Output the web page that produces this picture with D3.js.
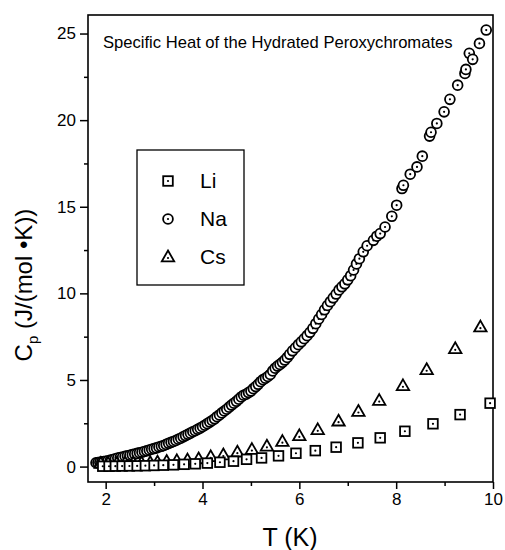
<!DOCTYPE html>
<html>
<head>
<meta charset="utf-8">
<script src="https://cdn.jsdelivr.net/npm/d3@7"></script>
<style>
  body { margin: 0; background: #fff; }
  svg { font-family: Arial, "Liberation Sans", sans-serif; }
</style>
</head>
<body>
<svg id="chart" width="505" height="550"></svg>
<script>
// data: T in K, Cp in J/(mol K)
let liT = [1.94, 2.07, 2.20, 2.34, 2.49, 2.65, 2.82, 3.00, 3.19, 3.40, 3.62, 3.85, 4.10, 4.36,
           4.64, 4.91, 5.22, 5.57, 5.93, 6.33, 6.76, 7.21, 7.67, 8.18, 8.76, 9.32, 9.94];
let liC = [0.02, 0.02, 0.025, 0.03, 0.035, 0.04, 0.05, 0.065, 0.08, 0.10, 0.13, 0.16, 0.20, 0.25,
           0.31, 0.42, 0.50, 0.62, 0.77, 0.92, 1.12, 1.37, 1.66, 2.04, 2.47, 3.00, 3.66];

let naT = [1.80, 1.84, 1.88, 1.92, 1.96, 2.00, 2.05, 2.10, 2.15, 2.20, 2.25, 2.30, 2.35, 2.40, 2.45,
           2.50, 2.55, 2.60, 2.65, 2.70, 2.75, 2.80, 2.85, 2.90, 2.95, 3.00, 3.05, 3.10, 3.15, 3.20,
           3.25, 3.30, 3.35, 3.40, 3.45, 3.50, 3.55, 3.60, 3.65, 3.70, 3.75, 3.80, 3.85, 3.90, 3.95,
           4.00, 4.05, 4.10, 4.15, 4.20, 4.25, 4.30, 4.35, 4.40, 4.45, 4.50, 4.55, 4.60, 4.65, 4.70,
           4.75, 4.80, 4.85, 4.90, 4.95, 5.00, 5.05, 5.10, 5.15, 5.20, 5.25, 5.30, 5.35, 5.40, 5.45,
           5.50, 5.55, 5.60, 5.65, 5.70, 5.75, 5.80, 5.86, 5.92, 5.98, 6.04, 6.10, 6.16, 6.22, 6.28,
           6.34, 6.40, 6.46, 6.52, 6.58, 6.64, 6.70, 6.76, 6.82, 6.88, 6.94, 7.00, 7.06, 7.12, 7.18,
           7.24, 7.32, 7.40, 7.53, 7.60, 7.67, 7.77, 7.91, 8.01, 8.12, 8.15, 8.29, 8.43, 8.54, 8.69,
           8.72, 8.84, 8.99, 9.11, 9.27, 9.42, 9.44, 9.51, 9.58, 9.72, 9.86];
let naC = [0.22, 0.23, 0.25, 0.27, 0.29, 0.31, 0.34, 0.38, 0.41, 0.45, 0.49, 0.52, 0.55, 0.59, 0.62,
           0.65, 0.69, 0.72, 0.76, 0.80, 0.83, 0.87, 0.91, 0.96, 1.00, 1.04, 1.08, 1.13, 1.17, 1.22,
           1.28, 1.34, 1.40, 1.45, 1.51, 1.58, 1.64, 1.72, 1.79, 1.86, 1.93, 2.01, 2.07, 2.15, 2.22,
           2.30, 2.39, 2.48, 2.57, 2.66, 2.76, 2.88, 2.98, 3.10, 3.21, 3.31, 3.43, 3.55, 3.66, 3.77,
           3.89, 4.02, 4.12, 4.18, 4.27, 4.36, 4.50, 4.62, 4.75, 4.90, 5.02, 5.10, 5.20, 5.32, 5.52,
           5.68, 5.80, 5.90, 6.02, 6.15, 6.30, 6.48, 6.68, 6.86, 7.04, 7.20, 7.38, 7.56, 7.75, 7.98,
           8.25, 8.52, 8.78, 9.05, 9.30, 9.52, 9.74, 9.96, 10.20, 10.38, 10.55, 10.78, 11.02, 11.35, 11.70,
           12.00, 12.40, 12.75, 13.06, 13.30, 13.45, 13.83, 14.45, 15.09, 16.05, 16.24, 16.88, 17.30, 17.92, 19.08,
           19.30, 19.81, 20.48, 21.20, 22.02, 22.70, 22.93, 23.86, 23.51, 24.43, 25.20];

let csT = [1.90, 2.05, 2.23, 2.40, 2.57, 2.74, 2.92, 3.07, 3.26, 3.47, 3.69, 3.92, 4.17, 4.43,
           4.72, 5.02, 5.33, 5.65, 6.00, 6.38, 6.81, 7.22, 7.65, 8.14, 8.63, 9.22, 9.74];
let csC = [0.18, 0.18, 0.18, 0.19, 0.19, 0.21, 0.22, 0.25, 0.29, 0.33, 0.37, 0.44, 0.56, 0.67,
           0.83, 0.98, 1.17, 1.44, 1.77, 2.12, 2.62, 3.18, 3.81, 4.66, 5.59, 6.80, 8.05];

let xTicks = [2, 4, 6, 8, 10];
let yTicks = [0, 5, 10, 15, 20, 25];
let legendNames = ["Li", "Na", "Cs"];
let title = "Specific Heat of the Hydrated Peroxychromates";

let margin = {top: 15, right: 12, bottom: 68, left: 88};
let width = 505, height = 550;

let x = d3.scaleLinear().domain([1.635, 10.0]).range([margin.left, width - margin.right]);
let y = d3.scaleLinear().domain([-0.89, 26.07]).range([height - margin.bottom, margin.top]);

const svg = d3.select("#chart");

// frame
svg.append("rect")
   .attr("x", x.range()[0]).attr("y", y.range()[1])
   .attr("width", x.range()[1] - x.range()[0])
   .attr("height", y.range()[0] - y.range()[1])
   .attr("fill", "none").attr("stroke", "#000").attr("stroke-width", 1.6);

// axes
svg.append("g")
   .attr("transform", `translate(0,${y.range()[0]})`)
   .call(d3.axisBottom(x).tickValues(xTicks).tickSize(7).tickPadding(4).tickFormat(d3.format("d")));
svg.append("g")
   .attr("transform", `translate(0,${y.range()[0]})`)
   .call(d3.axisBottom(x).tickValues([3, 5, 7, 9]).tickSize(4).tickFormat(""));

svg.append("g")
   .attr("transform", `translate(${x.range()[0]},0)`)
   .call(d3.axisLeft(y).tickValues(yTicks).tickSize(8).tickPadding(4).tickFormat(d3.format("d")));
svg.append("g")
   .attr("transform", `translate(${x.range()[0]},0)`)
   .call(d3.axisLeft(y).tickValues([2.5, 7.5, 12.5, 17.5, 22.5]).tickSize(4).tickFormat(""));

svg.selectAll(".domain").remove();
svg.selectAll(".tick line").attr("stroke", "#000").attr("stroke-width", 1.5);
svg.selectAll(".tick text").attr("fill", "#000").style("font-size", "17px")
   .style("font-family", "Arial, 'Liberation Sans', sans-serif");

// axis titles
svg.append("text")
   .attr("x", 290)
   .attr("y", 546)
   .attr("text-anchor", "middle")
   .style("font-size", "25px")
   .text("T (K)");

const yl = svg.append("text")
   .attr("transform", `translate(32,285) rotate(-90)`)
   .attr("text-anchor", "middle")
   .style("font-size", "24px");
yl.append("tspan").text("C");
yl.append("tspan").attr("dy", 6).style("font-size", "15px").text("p");
yl.append("tspan").attr("dy", -6).text(" (J/(mol \u2022K))");

// title inside the frame
svg.append("text")
   .attr("x", 103).attr("y", 48)
   .style("font-size", "16.6px")
   .text(title);

// markers
function square(g, cx, cy) {
  g.append("rect").attr("x", cx - 4.8).attr("y", cy - 4.8).attr("width", 9.6).attr("height", 9.6)
   .attr("fill", "#fff").attr("stroke", "#000").attr("stroke-width", 1.8);
  g.append("circle").attr("cx", cx).attr("cy", cy).attr("r", 1.1).attr("fill", "#000");
}
function ring(g, cx, cy) {
  g.append("circle").attr("cx", cx).attr("cy", cy).attr("r", 4.9)
   .attr("fill", "#fff").attr("stroke", "#000").attr("stroke-width", 1.8);
  g.append("circle").attr("cx", cx).attr("cy", cy).attr("r", 1.1).attr("fill", "#000");
}
function tri(g, cx, cy) {
  g.append("path").attr("d", `M${cx},${cy - 6.5}L${cx + 6.2},${cy + 4.3}L${cx - 6.2},${cy + 4.3}Z`)
   .attr("fill", "#fff").attr("stroke", "#000").attr("stroke-width", 1.8).attr("stroke-linejoin", "miter");
  g.append("circle").attr("cx", cx).attr("cy", cy + 1).attr("r", 1.1).attr("fill", "#000");
}

const gPts = svg.append("g");
naT.forEach((t, i) => ring(gPts, x(t), y(naC[i])));
csT.forEach((t, i) => tri(gPts, x(t), y(csC[i])));
liT.forEach((t, i) => square(gPts, x(t), y(liC[i])));

// legend
const leg = svg.append("g");
leg.append("rect").attr("x", 137).attr("y", 150).attr("width", 107).attr("height", 135)
   .attr("fill", "#fff").attr("stroke", "#000").attr("stroke-width", 1.3);
const drawers = [square, ring, tri];
legendNames.forEach((name, i) => {
  let cy = 181 + i * 38;
  drawers[i](leg, 168, cy);
  leg.append("text").attr("x", 200).attr("y", cy + 7)
     .style("font-size", "21px").text(name);
});
</script>
</body>
</html>
